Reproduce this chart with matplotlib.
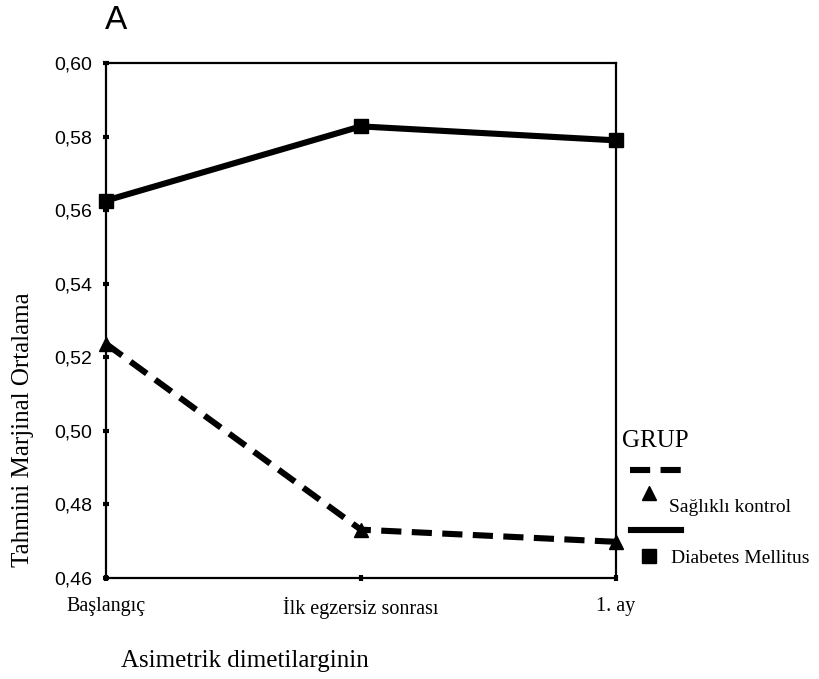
import matplotlib
matplotlib.use("Agg")
import matplotlib.pyplot as plt
from matplotlib.lines import Line2D

categories = ["Başlangıç", "İlk egzersiz sonrası", "1. ay"]
saglikli = [0.5237, 0.4731, 0.4698]
diabetes = [0.5626, 0.5828, 0.5790]
yticks = [0.46, 0.48, 0.50, 0.52, 0.54, 0.56, 0.58, 0.60]

serif = "Liberation Serif"
sans = "Liberation Sans"
dash = (3.3, 1.7)

fig = plt.figure(figsize=(8.2, 6.79), dpi=100)
ax = fig.add_axes([0.129, 0.149, 0.622, 0.758])

x = range(len(categories))
ax.plot(x, saglikli, color="black", lw=4.4, dashes=dash,
        marker="^", markersize=9.5, clip_on=False, zorder=3)
ax.plot(x, diabetes, color="black", lw=4.4, linestyle="-",
        marker="s", markersize=9.5, clip_on=False, zorder=3)

ax.set_xlim(0, 2)
ax.set_ylim(0.46, 0.60)
ax.set_yticks(yticks)
ax.set_yticklabels([f"{v:.2f}".replace(".", ",") for v in yticks],
                   fontfamily=sans, fontsize=14)
ax.set_xticks(list(x))
ax.set_xticklabels(categories, fontfamily=serif, fontsize=14.5)
ax.tick_params(direction="inout", length=5, width=3)
ax.tick_params(axis="y", pad=7)
ax.tick_params(axis="x", pad=11)
for s in ax.spines.values():
    s.set_linewidth(1.6)

fig.text(0.028, 0.367, "Tahmini Marjinal Ortalama", fontfamily=serif, fontsize=18,
         rotation=90, ha="center", va="center")
fig.text(0.147, 0.026, "Asimetrik dimetilarginin", fontfamily=serif, fontsize=18,
         ha="left", va="center")
fig.text(0.128, 0.970, "A", fontfamily=sans, fontsize=24, ha="left", va="center")

# legend drawn outside the axes on the right
fig.text(0.758, 0.350, "GRUP", fontfamily=serif, fontsize=18, ha="left", va="center")
handles = [
    Line2D([0.768, 0.830], [0.308, 0.308], transform=fig.transFigure, color="black",
           lw=4.4, dashes=dash),
    Line2D([0.792], [0.274], transform=fig.transFigure, color="black",
           marker="^", markersize=9.5, lw=0),
    Line2D([0.770, 0.830], [0.219, 0.219], transform=fig.transFigure, color="black", lw=4.4),
    Line2D([0.792], [0.181], transform=fig.transFigure, color="black",
           marker="s", markersize=9.5, lw=0),
]
for h in handles:
    fig.add_artist(h)
fig.text(0.816, 0.253, "Sağlıklı kontrol", fontfamily=serif, fontsize=14,
         ha="left", va="center")
fig.text(0.818, 0.178, "Diabetes Mellitus", fontfamily=serif, fontsize=14,
         ha="left", va="center")

fig.savefig("out.png", dpi=100)
